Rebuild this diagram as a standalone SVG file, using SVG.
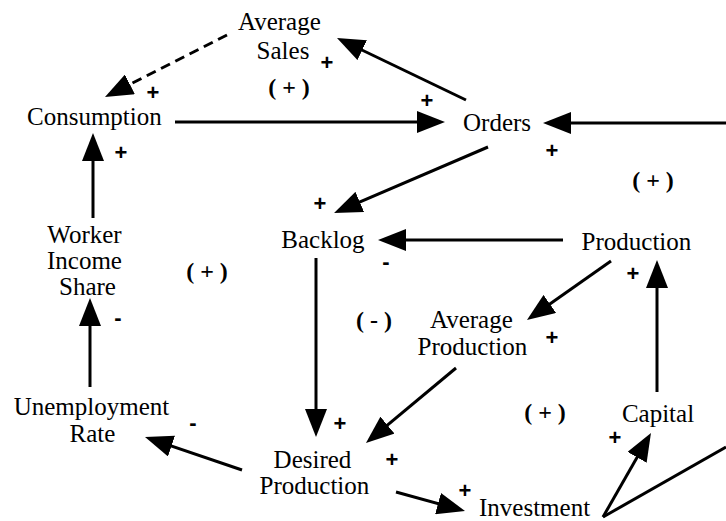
<svg xmlns="http://www.w3.org/2000/svg" width="726" height="521" viewBox="0 0 726 521">
<defs>
<marker id="ah" markerUnits="userSpaceOnUse" markerWidth="28" markerHeight="22" refX="20" refY="11" orient="auto">
<path d="M0,0 L28,11 L0,22 z" fill="#000"/>
</marker>
</defs>
<rect width="726" height="521" fill="#fff"/>
<g id="connectors" stroke="#000" stroke-width="3" fill="none">
<line x1="227" y1="35" x2="112.1" y2="93.4" stroke-dasharray="10 6" marker-end="url(#ah)"/>
<line x1="466" y1="100" x2="344.2" y2="41.5" marker-end="url(#ah)"/>
<line x1="175" y1="122" x2="437" y2="122" marker-end="url(#ah)"/>
<line x1="726" y1="123" x2="551" y2="123" marker-end="url(#ah)"/>
<line x1="488" y1="147" x2="341.4" y2="209.8" marker-end="url(#ah)"/>
<line x1="563" y1="240" x2="386" y2="240" marker-end="url(#ah)"/>
<line x1="316" y1="258" x2="316" y2="429" marker-end="url(#ah)"/>
<line x1="90" y1="387" x2="90" y2="306" marker-end="url(#ah)"/>
<line x1="93" y1="218" x2="93" y2="141" marker-end="url(#ah)"/>
<line x1="242" y1="470" x2="152.6" y2="439.6" marker-end="url(#ah)"/>
<line x1="611" y1="261" x2="533.5" y2="315.4" marker-end="url(#ah)"/>
<line x1="456" y1="368" x2="372.1" y2="437.9" marker-end="url(#ah)"/>
<line x1="657" y1="392" x2="657" y2="268" marker-end="url(#ah)"/>
<line x1="396" y1="492" x2="457.3" y2="508.9" marker-end="url(#ah)"/>
<line x1="603" y1="517" x2="647" y2="440" marker-end="url(#ah)"/>
<line x1="603" y1="517" x2="726" y2="447"/>
</g>
<g id="average-sales"><text style="font-family:'Liberation Serif',serif;font-size:25px" x="238" y="30">Average</text><text style="font-family:'Liberation Serif',serif;font-size:25px" x="256.6" y="59">Sales</text></g>
<g id="consumption"><text style="font-family:'Liberation Serif',serif;font-size:25px" x="27" y="125">Consumption</text></g>
<g id="orders"><text style="font-family:'Liberation Serif',serif;font-size:25px" x="463" y="131">Orders</text></g>
<g id="worker-income-share"><text style="font-family:'Liberation Serif',serif;font-size:25px" x="47.3" y="243">Worker</text><text style="font-family:'Liberation Serif',serif;font-size:25px" x="47" y="269">Income</text><text style="font-family:'Liberation Serif',serif;font-size:25px" x="59" y="295">Share</text></g>
<g id="backlog"><text style="font-family:'Liberation Serif',serif;font-size:25px" x="281.3" y="248">Backlog</text></g>
<g id="production"><text style="font-family:'Liberation Serif',serif;font-size:25px" x="581.6" y="250">Production</text></g>
<g id="average-production"><text style="font-family:'Liberation Serif',serif;font-size:25px" x="430" y="328">Average</text><text style="font-family:'Liberation Serif',serif;font-size:25px" x="417.6" y="355">Production</text></g>
<g id="unemployment-rate"><text style="font-family:'Liberation Serif',serif;font-size:25px" x="13.7" y="415">Unemployment</text><text style="font-family:'Liberation Serif',serif;font-size:25px" x="69.6" y="442">Rate</text></g>
<g id="capital"><text style="font-family:'Liberation Serif',serif;font-size:25px" x="621.9" y="422">Capital</text></g>
<g id="desired-production"><text style="font-family:'Liberation Serif',serif;font-size:25px" x="273.6" y="468">Desired</text><text style="font-family:'Liberation Serif',serif;font-size:25px" x="259.6" y="494">Production</text></g>
<g id="investment"><text style="font-family:'Liberation Serif',serif;font-size:25px" x="479" y="516">Investment</text></g>
<g id="loop-labels">
<text style="font-family:'Liberation Serif',serif;font-size:24px;font-weight:bold" x="268.2" y="95">( + )</text>
<text style="font-family:'Liberation Serif',serif;font-size:24px;font-weight:bold" x="632.2" y="188">( + )</text>
<text style="font-family:'Liberation Serif',serif;font-size:24px;font-weight:bold" x="186.2" y="279">( + )</text>
<text style="font-family:'Liberation Serif',serif;font-size:24px;font-weight:bold" x="356" y="328">( - )</text>
<text style="font-family:'Liberation Serif',serif;font-size:24px;font-weight:bold" x="524.2" y="420">( + )</text>
</g>
<g id="polarities">
<text style="font-family:'Liberation Sans',sans-serif;font-size:22px;font-weight:bold" x="320.6" y="70">+</text>
<text style="font-family:'Liberation Sans',sans-serif;font-size:22px;font-weight:bold" x="146.6" y="100">+</text>
<text style="font-family:'Liberation Sans',sans-serif;font-size:22px;font-weight:bold" x="114.6" y="160">+</text>
<text style="font-family:'Liberation Sans',sans-serif;font-size:22px;font-weight:bold" x="313.6" y="211">+</text>
<text style="font-family:'Liberation Sans',sans-serif;font-size:22px;font-weight:bold" x="420.6" y="108">+</text>
<text style="font-family:'Liberation Sans',sans-serif;font-size:22px;font-weight:bold" x="545.6" y="158">+</text>
<text style="font-family:'Liberation Sans',sans-serif;font-size:22px;font-weight:bold" x="382.3" y="269">-</text>
<text style="font-family:'Liberation Sans',sans-serif;font-size:22px;font-weight:bold" x="626.6" y="281">+</text>
<text style="font-family:'Liberation Sans',sans-serif;font-size:22px;font-weight:bold" x="545.6" y="345">+</text>
<text style="font-family:'Liberation Sans',sans-serif;font-size:22px;font-weight:bold" x="114.3" y="325">-</text>
<text style="font-family:'Liberation Sans',sans-serif;font-size:22px;font-weight:bold" x="189.3" y="430">-</text>
<text style="font-family:'Liberation Sans',sans-serif;font-size:22px;font-weight:bold" x="333.6" y="431">+</text>
<text style="font-family:'Liberation Sans',sans-serif;font-size:22px;font-weight:bold" x="385.6" y="467">+</text>
<text style="font-family:'Liberation Sans',sans-serif;font-size:22px;font-weight:bold" x="458.6" y="498">+</text>
<text style="font-family:'Liberation Sans',sans-serif;font-size:22px;font-weight:bold" x="608.6" y="445">+</text>
</g>
</svg>
